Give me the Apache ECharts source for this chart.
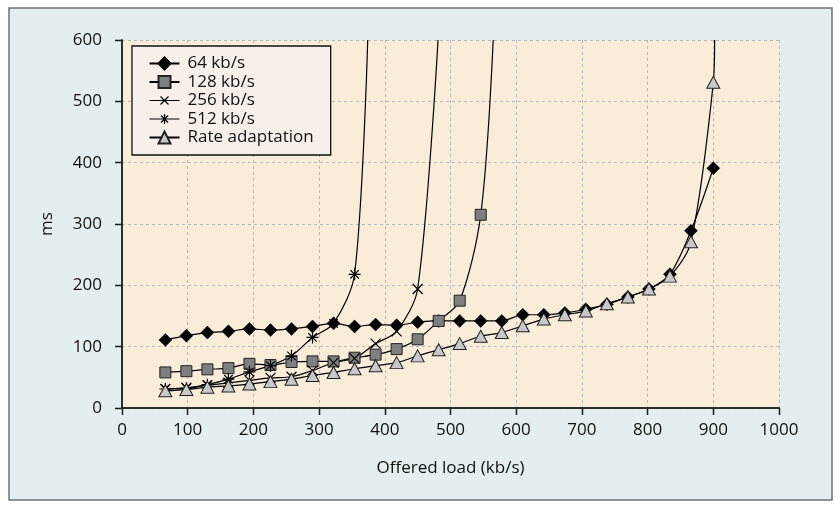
<!DOCTYPE html>
<html>
<head>
<meta charset="utf-8">
<script src="https://cdn.jsdelivr.net/npm/echarts@6/dist/echarts.min.js"></script>
<style>
html,body{margin:0;padding:0;background:#fff;}
#c{width:840px;height:508px;}
</style>
</head>
<body>
<div id="c"></div>
<script>
// Offered load (kb/s) sample points
const loads = [66,98,130,162,194,226,258,290,322,354,386,418,450,482,514,546,578,610,642,674,706,738,770,802,834,866,900];
const seriesNames = ['64 kb/s','128 kb/s','256 kb/s','512 kb/s','Rate adaptation'];
// delay (ms)
const ms64   = [111,118,123,125,129,127,129,133,138,133,136,135,140,142,142,142,142,152,152,155,161,169,181,194,218,289,391];
const ms128  = [58,60,63,65,72,70,75,76,76,82,87,96,112,142,175,315];
const ms256  = [31,33,37,41,45,49,51,61,74,81,105,125,194];
const ms512  = [31,32,38,47,59,69,85,115,138,218];
const msRate = [28,30,34,36,39,43,47,53,58,64,69,74,85,95,105,117,123,134,145,152,158,170,181,194,215,271,531];
// where each curve leaves the top of the chart (load, ms)
const exit128 = [565,600];
const exit256 = [481,600];
const exit512 = [374,600];
const exitRate = [902,600];
const xTicks = {min:0, max:1000, step:100};
const yTicks = {min:0, max:600, step:100};

function pairs(vals, exitPt){
  const d = vals.map((v,i)=>[loads[i], v]);
  if (exitPt) d.push({value: exitPt, symbol: 'none'});
  return d;
}

const FONT = 'Open Sans';
const chart = echarts.init(document.getElementById('c'), null, {renderer:'canvas'});
const lineStyle = {color:'#000', width:1.2};
const xPath = 'path://M0,0L10,10M10,0L0,10';
const starPath = 'path://M5,0L5,10M0,5L10,5M1.5,1.5L8.5,8.5M8.5,1.5L1.5,8.5';
// legend icons: line with small symbol in the middle
const xIcon = 'path://M0,7L30,7M11,3L19,11M19,3L11,11';
const starIcon = 'path://M0,7L30,7M15,2L15,12M11.5,3.5L18.5,10.5M18.5,3.5L11.5,10.5';

chart.setOption({
  animation:false,
  backgroundColor:'#ffffff',
  graphic:[{
    type:'rect', z:-10, silent:true,
    shape:{x:9, y:8, width:823, height:492},
    style:{fill:'#e3eef1', stroke:'#707070', lineWidth:1.5}
  }],
  grid:{left:122, right:61, top:40, bottom:100, show:true, backgroundColor:'#f9ecd9', borderWidth:0},
  legend:{
    orient:'vertical', left:132, top:46,
    padding:[9,17,9,15],
    backgroundColor:'#f7f0ea', borderColor:'#111', borderWidth:1.3,
    itemWidth:30, itemHeight:15, itemGap:1.5,
    textStyle:{fontFamily:FONT, fontSize:17, color:'#111', padding:[0,0,0,3], lineHeight:15},
    data:[
      {name:seriesNames[0]},
      {name:seriesNames[1]},
      {name:seriesNames[2], icon:xIcon, itemStyle:{color:'none', borderColor:'#000', borderWidth:1.2}},
      {name:seriesNames[3], icon:starIcon, itemStyle:{color:'none', borderColor:'#000', borderWidth:1.2}},
      {name:seriesNames[4]}
    ]
  },
  xAxis:[{
    type:'value', min:xTicks.min, max:xTicks.max, interval:xTicks.step,
    name:'Offered load (kb/s)', nameLocation:'middle', nameGap:52,
    nameTextStyle:{fontFamily:FONT, fontSize:17, color:'#111'},
    axisLine:{lineStyle:{color:'#222', width:1.5}},
    axisTick:{show:true, length:7, lineStyle:{color:'#222', width:1.3}},
    axisLabel:{fontFamily:FONT, fontSize:17, color:'#111', margin:14, formatter:(v)=>String(v)},
    splitLine:{show:true, lineStyle:{color:'#b8b8b8', type:[3,3], width:1}}
  },{
    type:'value', position:'top', min:xTicks.min, max:xTicks.max, interval:xTicks.step,
    axisLine:{lineStyle:{color:'#222', width:1.5}},
    axisTick:{show:true, inside:true, length:7, lineStyle:{color:'#222', width:1.3}},
    axisLabel:{show:false}, splitLine:{show:false}
  }],
  yAxis:[{
    type:'value', min:yTicks.min, max:yTicks.max, interval:yTicks.step,
    name:'ms', nameLocation:'middle', nameGap:66, nameRotate:90,
    nameTextStyle:{fontFamily:FONT, fontSize:17, color:'#111'},
    axisLine:{show:true, lineStyle:{color:'#222', width:1.5}},
    axisTick:{show:true, length:7, lineStyle:{color:'#222', width:1.3}},
    axisLabel:{fontFamily:FONT, fontSize:17, color:'#111', margin:20, formatter:(v)=>String(v)},
    splitLine:{show:true, lineStyle:{color:'#b8b8b8', type:[3,3], width:1}}
  },{
    type:'value', position:'right', min:yTicks.min, max:yTicks.max, interval:yTicks.step,
    axisLine:{show:true, lineStyle:{color:'#222', width:1.5}},
    axisTick:{show:true, inside:true, length:7, lineStyle:{color:'#222', width:1.3}},
    axisLabel:{show:false}, splitLine:{show:false}
  }],
  series:[
    {name:seriesNames[0], type:'line', data:pairs(ms64), smooth:0.3, symbol:'diamond', symbolSize:[13,13],
      lineStyle:lineStyle, itemStyle:{color:'#000', borderColor:'#000', borderWidth:0.5}},
    {name:seriesNames[1], type:'line', data:pairs(ms128, exit128), smooth:0.3, symbol:'rect', symbolSize:11,
      lineStyle:lineStyle, itemStyle:{color:'#7f7f7f', borderColor:'#222', borderWidth:1}},
    {name:seriesNames[2], type:'line', data:pairs(ms256, exit256), smooth:0.3, symbol:xPath, symbolSize:10,
      lineStyle:lineStyle, itemStyle:{color:'none', borderColor:'#000', borderWidth:1.2}},
    {name:seriesNames[3], type:'line', data:pairs(ms512, exit512), smooth:0.3, symbol:starPath, symbolSize:12,
      lineStyle:lineStyle, itemStyle:{color:'none', borderColor:'#000', borderWidth:1.2}},
    {name:seriesNames[4], type:'line', data:pairs(msRate, exitRate), smooth:0.3, symbol:'triangle', symbolSize:[13,12],
      lineStyle:lineStyle, itemStyle:{color:'#c8c8c8', borderColor:'#222', borderWidth:1}}
  ]
});
</script>
</body>
</html>
